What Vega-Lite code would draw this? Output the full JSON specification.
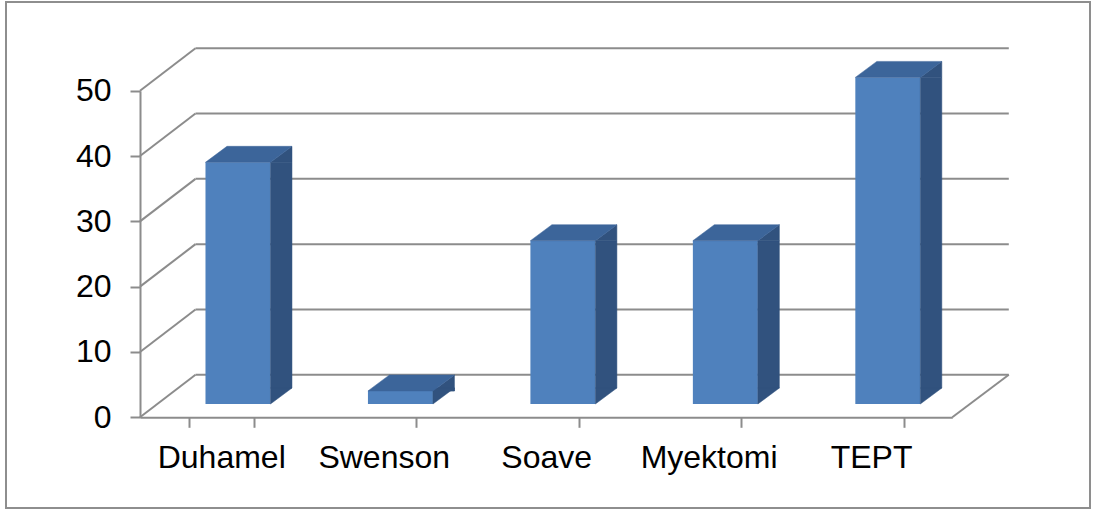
{
  "$schema": "https://vega.github.io/schema/vega-lite/v6.json",
  "width": 1084,
  "height": 506,
  "autosize": {"type": "none"},
  "padding": {"left": 6, "top": 2, "right": 4, "bottom": 3},
  "background": "white",
  "config": {
    "view": {"stroke": "#8E8E8E", "strokeWidth": 2},
    "font": "Liberation Sans"
  },
  "data": {
    "values": [
      {"method": "Duhamel", "value": 37},
      {"method": "Swenson", "value": 2},
      {"method": "Soave", "value": 25},
      {"method": "Myektomi", "value": 25},
      {"method": "TEPT", "value": 50}
    ]
  },
  "encoding": {
    "x": {
      "field": "method",
      "type": "nominal",
      "sort": null,
      "scale": {"type": "band", "range": [134, 946.3], "paddingInner": 0.6, "paddingOuter": 0.3},
      "axis": {
        "title": null,
        "orient": "bottom",
        "offset": -90.7,
        "domainColor": "#8C8C8C",
        "domainWidth": 2,
        "tickColor": "#8C8C8C",
        "tickWidth": 2,
        "tickSize": 10,
        "tickBand": "extent",
        "labelFontSize": 32,
        "labelColor": "#000000",
        "labelPadding": 15,
        "labelAngle": 0,
        "grid": false
      }
    },
    "y": {
      "field": "value",
      "type": "quantitative",
      "scale": {"domain": [0, 50], "range": [415.3, 88.7], "nice": false, "zero": true},
      "axis": {
        "title": null,
        "orient": "left",
        "offset": -134,
        "values": [0, 10, 20, 30, 40, 50],
        "domainColor": "#8C8C8C",
        "domainWidth": 2,
        "tickColor": "#8C8C8C",
        "tickWidth": 2,
        "tickSize": 10,
        "labelFontSize": 32,
        "labelColor": "#000000",
        "labelPadding": 19,
        "grid": false
      }
    }
  },
  "layer": [
    {
      "data": {"values": [{"t": 0}, {"t": 10}, {"t": 20}, {"t": 30}, {"t": 40}, {"t": 50}]},
      "mark": {"type": "rule", "color": "#8C8C8C", "strokeWidth": 2, "xOffset": 55.5, "x2Offset": 56.5, "yOffset": -42.5},
      "encoding": {
        "x": {"value": {"expr": "range('x')[0]"}},
        "x2": {"value": {"expr": "range('x')[1]"}},
        "y": {"field": "t", "type": "quantitative"}
      }
    },
    {
      "data": {"values": [{"t": 0}, {"t": 10}, {"t": 20}, {"t": 30}, {"t": 40}, {"t": 50}]},
      "mark": {"type": "rule", "color": "#8C8C8C", "strokeWidth": 2, "x2Offset": 55.5, "y2Offset": -42.5},
      "encoding": {
        "x": {"value": {"expr": "range('x')[0]"}},
        "x2": {"value": {"expr": "range('x')[0]"}},
        "y": {"field": "t", "type": "quantitative"},
        "y2": {"field": "t"}
      }
    },
    {
      "data": {"values": [{"t": 0}]},
      "mark": {"type": "rule", "color": "#8C8C8C", "strokeWidth": 2, "x2Offset": 56.5, "y2Offset": -42.5},
      "encoding": {
        "x": {"value": {"expr": "range('x')[1]"}},
        "x2": {"value": {"expr": "range('x')[1]"}},
        "y": {"field": "t", "type": "quantitative"},
        "y2": {"field": "t"}
      }
    },
    {
      "mark": {"type": "bar", "color": "#4F81BD", "xOffset": 16.75, "yOffset": -13.3, "y2Offset": -13.3},
      "encoding": {"y2": {"datum": 0}}
    },
    {
      "mark": {"type": "bar", "color": "#31527E", "stroke": "#31527E", "strokeWidth": 0.5, "width": 21.5, "xOffset": 60, "yOffset": -13.3, "y2Offset": -29.3},
      "encoding": {"y2": {"datum": 0}}
    },
    {
      "mark": {"type": "point", "filled": true, "opacity": 1, "color": "#31527E", "stroke": "#31527E", "strokeWidth": 0.5, "size": 10000, "shape": "M0.65,0L1.08,-0.32L1.08,0Z", "xOffset": 16.75, "yOffset": -13.3}
    },
    {
      "mark": {"type": "point", "filled": true, "opacity": 1, "color": "#31527E", "stroke": "#31527E", "strokeWidth": 0.5, "size": 10000, "shape": "M0.65,-0.32L0.65,0L1.08,-0.32Z", "xOffset": 16.75, "yOffset": -13.3},
      "encoding": {"y": {"datum": 0, "type": "quantitative"}}
    },
    {
      "mark": {"type": "point", "filled": true, "opacity": 1, "color": "#3C659A", "stroke": "#3C659A", "strokeWidth": 0.5, "size": 10000, "shape": "M-0.65,0L0.65,0L1.08,-0.32L-0.22,-0.32Z", "xOffset": 16.75, "yOffset": -13.3}
    }
  ]
}
